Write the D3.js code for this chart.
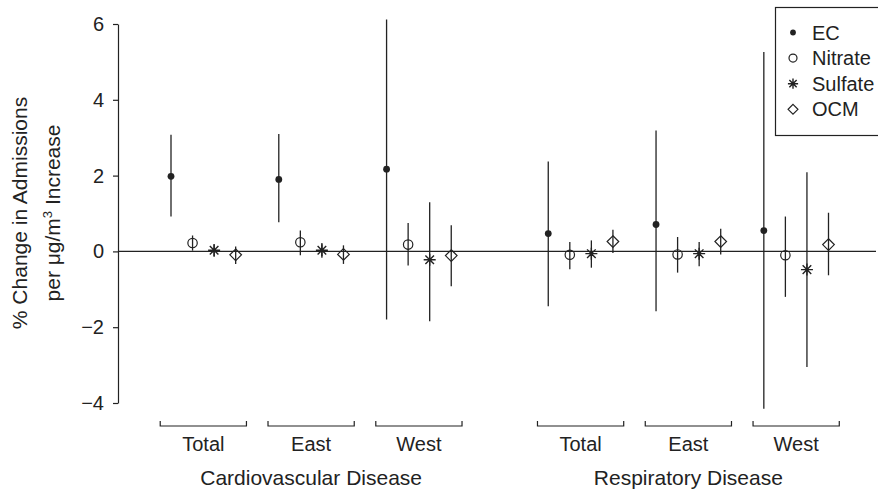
<!DOCTYPE html>
<html>
<head>
<meta charset="utf-8">
<script src="https://cdn.jsdelivr.net/npm/d3@7"></script>
<style>
  html, body { margin: 0; padding: 0; background: #fff; }
  svg { display: block; }
  text { font-family: "Liberation Sans", Arial, Helvetica, sans-serif; fill: #222; }
</style>
</head>
<body>
<svg id="chart" width="878" height="490"></svg>
<script>
// ---------- data ----------
const diseases = ["Cardiovascular Disease", "Respiratory Disease"];
const regions = ["Total", "East", "West"];
const series = ["EC", "Nitrate", "Sulfate", "OCM"];
const yTicks = [-4, -2, 0, 2, 4, 6];

// order: CV Total, CV East, CV West, RD Total, RD East, RD West
const ecEst = [1.98, 1.90, 2.17, 0.47, 0.71, 0.55];
const ecLo  = [0.92, 0.77, -1.80, -1.45, -1.58, -4.15];
const ecHi  = [3.08, 3.10, 6.12, 2.37, 3.19, 5.26];

const nitrateEst = [0.22, 0.24, 0.18, -0.09, -0.08, -0.10];
const nitrateLo  = [0.02, -0.10, -0.37, -0.47, -0.56, -1.20];
const nitrateHi  = [0.42, 0.55, 0.75, 0.25, 0.38, 0.92];

const sulfateEst = [0.03, 0.03, -0.22, -0.06, -0.06, -0.48];
const sulfateLo  = [-0.14, -0.17, -1.84, -0.43, -0.39, -3.05];
const sulfateHi  = [0.19, 0.22, 1.30, 0.29, 0.25, 2.09];

const ocmEst = [-0.09, -0.08, -0.11, 0.26, 0.26, 0.18];
const ocmLo  = [-0.33, -0.33, -0.92, -0.04, -0.08, -0.63];
const ocmHi  = [0.13, 0.16, 0.69, 0.57, 0.60, 1.02];

const seriesData = [
  { name: "EC", est: ecEst, lo: ecLo, hi: ecHi },
  { name: "Nitrate", est: nitrateEst, lo: nitrateLo, hi: nitrateHi },
  { name: "Sulfate", est: sulfateEst, lo: sulfateLo, hi: sulfateHi },
  { name: "OCM", est: ocmEst, lo: ocmLo, hi: ocmHi }
];

// ---------- layout ----------
const ink = "#222";
const svg = d3.select("#chart");

// slot position for group g (0..5) and series s (0..3)
const slot = (g, s) => g * 5 + (g >= 3 ? 2.5 : 0) + s;
const x = d3.scaleLinear().domain([0, 30.5]).range([171, 828.5]);
const y = d3.scaleLinear().domain([-4, 6]).range([403, 24]);

// y axis
const yAxis = d3.axisLeft(y).tickValues(yTicks).tickSize(5).tickSizeOuter(0).tickPadding(9)
  .tickFormat(d3.format("d"));
const ag = svg.append("g").attr("transform", "translate(118,0)").call(yAxis);
ag.select(".domain").attr("stroke", ink).attr("stroke-width", 1.2);
ag.selectAll(".tick line").attr("stroke", ink).attr("stroke-width", 1.2);
ag.selectAll(".tick text").style("font-size", "20px").attr("fill", ink)
  .style("font-family", "'Liberation Sans', Arial, sans-serif");

// zero line
svg.append("line")
  .attr("x1", 118).attr("x2", 876)
  .attr("y1", y(0)).attr("y2", y(0))
  .attr("stroke", ink).attr("stroke-width", 1.2);

// y axis title
svg.append("text")
  .attr("transform", "translate(27,213) rotate(-90)")
  .attr("text-anchor", "middle")
  .style("font-size", "21px")
  .text("% Change in Admissions");
const t2 = svg.append("text")
  .attr("transform", "translate(60,213) rotate(-90)")
  .attr("text-anchor", "middle")
  .style("font-size", "21px");
t2.append("tspan").text("per \u03bcg/m");
t2.append("tspan").attr("dy", -8).style("font-size", "13px").text("3");
t2.append("tspan").attr("dy", 8).text(" Increase");

// markers
function drawMarker(g, name, cx, cy, scale) {
  const k = scale || 1;
  if (name === "EC") {
    g.append("circle").attr("cx", cx).attr("cy", cy).attr("r", 3.4 * k).attr("fill", ink);
  } else if (name === "Nitrate") {
    g.append("circle").attr("cx", cx).attr("cy", cy).attr("r", 4.7 * k)
      .attr("fill", "none").attr("stroke", ink).attr("stroke-width", 1.2);
  } else if (name === "Sulfate") {
    const r = 6 * k, d = 4.3 * k;
    const p = `M${cx - r},${cy}L${cx + r},${cy}M${cx},${cy - r}L${cx},${cy + r}` +
              `M${cx - d},${cy - d}L${cx + d},${cy + d}M${cx - d},${cy + d}L${cx + d},${cy - d}`;
    g.append("path").attr("d", p).attr("stroke", ink).attr("stroke-width", 1.4).attr("fill", "none");
  } else {
    const r = 5.8 * k;
    const p = `M${cx},${cy - r}L${cx + r},${cy}L${cx},${cy + r}L${cx - r},${cy}Z`;
    g.append("path").attr("d", p).attr("stroke", ink).attr("stroke-width", 1.2).attr("fill", "none");
  }
}

const plot = svg.append("g");
seriesData.forEach((sd, s) => {
  sd.est.forEach((v, g) => {
    const cx = x(slot(g, s));
    plot.append("line")
      .attr("x1", cx).attr("x2", cx)
      .attr("y1", y(sd.hi[g])).attr("y2", y(sd.lo[g]))
      .attr("stroke", ink).attr("stroke-width", 1.3);
    drawMarker(plot, sd.name, cx, y(v));
  });
});

// group brackets and labels
const half = (x(1) - x(0)) / 2;
for (let g = 0; g < 6; g++) {
  const x0 = x(slot(g, 0)) - half, x1 = x(slot(g, 3)) + half;
  svg.append("path")
    .attr("d", `M${x0},421V426H${x1}V421`)
    .attr("fill", "none").attr("stroke", ink).attr("stroke-width", 1.2);
  svg.append("text")
    .attr("x", (x0 + x1) / 2).attr("y", 451)
    .attr("text-anchor", "middle").style("font-size", "20px")
    .text(regions[g % 3]);
}
diseases.forEach((dz, i) => {
  const x0 = x(slot(i * 3, 0)) - half, x1 = x(slot(i * 3 + 2, 3)) + half;
  svg.append("text")
    .attr("x", (x0 + x1) / 2).attr("y", 485)
    .attr("text-anchor", "middle").style("font-size", "21px")
    .text(dz);
});

// legend
const lg = svg.append("g");
lg.append("rect").attr("x", 775.5).attr("y", 7.5).attr("width", 120).attr("height", 128)
  .attr("fill", "#fff").attr("stroke", ink).attr("stroke-width", 1.2);
series.forEach((name, i) => {
  const by = 39.5 + 25.6 * i;
  drawMarker(lg, name, 793, by - 7, 0.85);
  lg.append("text").attr("x", 812).attr("y", by).style("font-size", "20px").text(name);
});
</script>
</body>
</html>
